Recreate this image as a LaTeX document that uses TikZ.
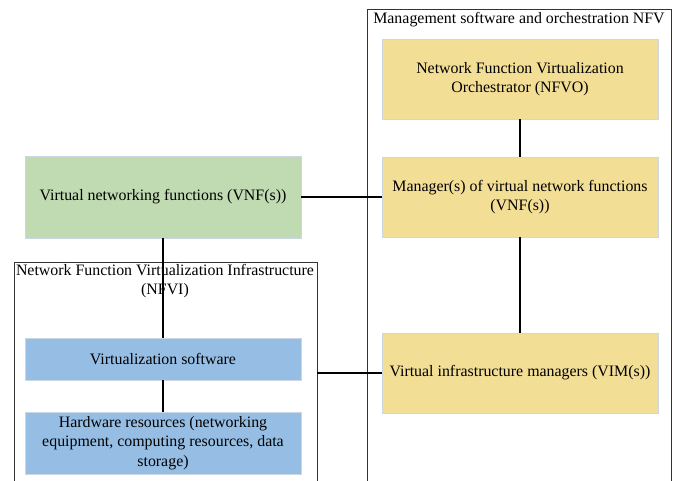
\documentclass[tikz,border=0pt]{standalone}
\usepackage{fontspec}
\setmainfont{Liberation Serif}
\usetikzlibrary{positioning}
\definecolor{mgmtyellow}{RGB}{243,222,150}
\definecolor{vnfgreen}{RGB}{192,218,178}
\definecolor{infrablue}{RGB}{150,190,228}
\definecolor{boxedge}{RGB}{205,215,228}
\begin{document}
\begin{tikzpicture}[x=1pt,y=-1pt,-,line width=1.2pt,
    font=\fontsize{15.9}{19.3}\selectfont,
    fn node/.style={rectangle,draw=boxedge,line width=0.6pt,align=center,inner sep=2pt},
    mgmt node/.style={fn node,fill=mgmtyellow,minimum width=276pt,minimum height=80pt},
    infra node/.style={fn node,fill=infrablue,minimum width=276pt},
    frame node/.style={rectangle,draw=black!80,line width=0.6pt,inner sep=0pt},
    title node/.style={align=center,inner sep=0pt}]
   \useasboundingbox (0,0) rectangle (675,481);
   \clip (0,0) rectangle (675,481);
   \begin{scope}
     % outer frames
     \node[frame node,minimum width=304pt,minimum height=500pt] (mgmt) at (519,259) {};
     \node[frame node,minimum width=303pt,minimum height=240pt] (nfvi) at (165.5,382) {};
     \node[title node] (mgmt title) at (519,20) {Management software and orchestration NFV};
     \node[title node] (nfvi title) at (165,281) {Network Function Virtualization Infrastructure\\(NFVI)};
      % management side
      \node[mgmt node] (nfvo) at (520,79) {Network Function Virtualization\\Orchestrator (NFVO)};
      \node[mgmt node] (vnfm) at (520,197) {Manager(s) of virtual network functions\\(VNF(s))};
      \node[mgmt node] (vim) at (520,373) {Virtual infrastructure managers (VIM(s))};
      % functions and infrastructure
      \node[fn node,fill=vnfgreen,minimum width=276pt,minimum height=82pt] (vnf) at (163,197) {Virtual networking functions (VNF(s))};
      \node[infra node,minimum height=42pt] (vsw) at (163,359) {Virtualization software};
      \node[infra node,minimum height=62pt] (hw) at (163,443) {Hardware resources (networking\\equipment, computing resources, data\\storage)};
       \path (nfvo) edge (vnfm);
       \path (vnfm) edge (vim);
       \path (vnf) edge (vnfm);
       \path (vnf) edge (vsw);
       \path (vsw) edge (hw);
       \path (nfvi.east |- vim.west) edge (vim.west);
    \end{scope}
  \end{tikzpicture}
\end{document}
